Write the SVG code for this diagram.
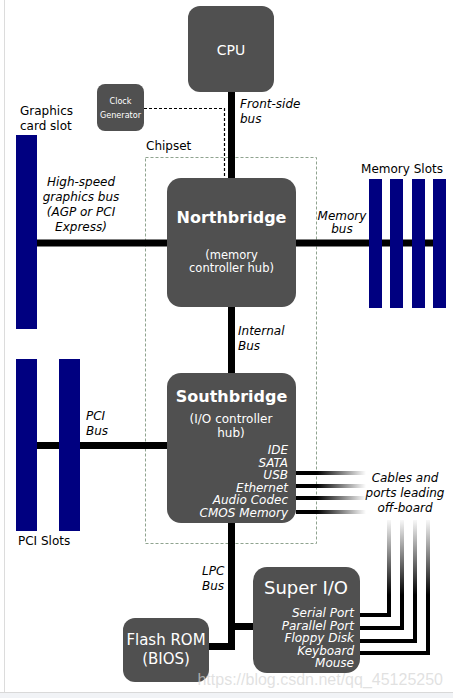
<svg xmlns="http://www.w3.org/2000/svg" width="453" height="698" viewBox="0 0 453 698">
<defs>
<style>
.node{fill:#505050}
.slot{fill:#000080}
.bus{stroke:#000;stroke-width:7;fill:none}
.t{font-family:"DejaVu Sans","Liberation Sans",sans-serif;fill:#fff}
.lbl{font-family:"DejaVu Sans","Liberation Sans",sans-serif;font-size:12px;fill:#000}
.it{font-family:"DejaVu Sans","Liberation Sans",sans-serif;font-size:12px;font-style:italic;fill:#000}
.wit{font-family:"DejaVu Sans","Liberation Sans",sans-serif;font-size:12px;font-style:italic;fill:#fff;text-anchor:end}
.hcable{stroke:url(#gh);stroke-width:4;fill:none}
.vcable{stroke:url(#gv);stroke-width:4;fill:none}
</style>
<linearGradient id="gh" gradientUnits="userSpaceOnUse" x1="296" y1="0" x2="366" y2="0">
<stop offset="0.3" stop-color="#000"/><stop offset="1" stop-color="#fff"/>
</linearGradient>
<linearGradient id="gv" gradientUnits="userSpaceOnUse" x1="0" y1="518" x2="0" y2="595">
<stop offset="0" stop-color="#fff"/><stop offset="1" stop-color="#000"/>
</linearGradient>
</defs>
<rect width="453" height="698" fill="#fff"/>
<rect x="0" y="692" width="453" height="6" fill="#f1f3f6"/>
<line x1="0" y1="692.5" x2="453" y2="692.5" stroke="#d9d9d9"/>
<line x1="4.5" y1="0" x2="4.5" y2="692" stroke="#dcdcdc"/>

<g id="chipset">
<rect x="145.5" y="157.5" width="171" height="386" fill="none" stroke="#8fa38f" stroke-dasharray="3,2"/>
<text class="lbl" x="146" y="150">Chipset</text>
</g>

<g id="connectors">
<line class="bus" x1="231.5" y1="92" x2="231.5" y2="178"/>
<polyline points="144,108.5 224.5,108.5 224.5,178" fill="none" stroke="#000" stroke-width="1.2" stroke-dasharray="3,2"/>
<line class="bus" x1="37" y1="243" x2="167" y2="243"/>
<line class="bus" x1="296" y1="243" x2="446" y2="243"/>
<line class="bus" x1="231.5" y1="307" x2="231.5" y2="373"/>
<line class="bus" x1="37" y1="445.5" x2="167" y2="445.5"/>
<polyline class="bus" points="231.5,523 231.5,646.5 209,646.5"/>
<line class="bus" x1="231.5" y1="626.5" x2="253" y2="626.5"/>
<line class="hcable" x1="296" y1="473" x2="366" y2="473"/>
<line class="hcable" x1="296" y1="486" x2="366" y2="486"/>
<line class="hcable" x1="296" y1="498" x2="366" y2="498"/>
<line class="hcable" x1="296" y1="512" x2="366" y2="512"/>
<polyline class="vcable" points="358,615 389,615 389,520"/>
<polyline class="vcable" points="358,628 402,628 402,520"/>
<polyline class="vcable" points="358,641 415,641 415,520"/>
<polyline class="vcable" points="358,653 428,653 428,520"/>
<g id="bus-labels">
<text class="it" x="240" y="108">Front-side</text>
<text class="it" x="240" y="123">bus</text>
<text class="it" text-anchor="middle"><tspan x="81" y="186">High-speed</tspan><tspan x="81" y="201">graphics bus</tspan><tspan x="81" y="216">(AGP or PCI</tspan><tspan x="81" y="231">Express)</tspan></text>
<text class="it" text-anchor="middle"><tspan x="342" y="220">Memory</tspan><tspan x="342" y="233">bus</tspan></text>
<text class="it" x="238" y="335">Internal</text>
<text class="it" x="238" y="350">Bus</text>
<text class="it" x="86" y="420">PCI</text>
<text class="it" x="86" y="435">Bus</text>
<text class="it" x="202" y="575">LPC</text>
<text class="it" x="202" y="590">Bus</text>
<text class="it" text-anchor="middle"><tspan x="405" y="482">Cables and</tspan><tspan x="405" y="497">ports leading</tspan><tspan x="405" y="512">off-board</tspan></text>
</g>
</g>

<g id="cpu">
<rect class="node" x="188" y="6" width="86" height="86" rx="12"/>
<text class="t" x="231" y="55" font-size="14" text-anchor="middle">CPU</text>
</g>

<g id="clock">
<rect class="node" x="97" y="84" width="47" height="47" rx="8"/>
<text class="t" font-size="9" font-stretch="condensed" text-anchor="middle" style="font-family:'DejaVu Sans Condensed','DejaVu Sans',sans-serif"><tspan x="120.5" y="104">Clock</tspan><tspan x="120.5" y="118">Generator</tspan></text>
</g>

<g id="graphics-slot">
<rect class="slot" x="16" y="135" width="21" height="194"/>
<text class="lbl"><tspan x="20" y="115">Graphics</tspan><tspan x="20" y="130">card slot</tspan></text>
</g>

<g id="memory-slots">
<rect class="slot" x="369" y="179" width="13" height="129"/>
<rect class="slot" x="390" y="179" width="13" height="129"/>
<rect class="slot" x="412" y="179" width="13" height="129"/>
<rect class="slot" x="433" y="179" width="13" height="129"/>
<text class="lbl" x="402" y="173" text-anchor="middle">Memory Slots</text>
</g>

<g id="northbridge">
<rect class="node" x="167" y="178" width="129" height="129" rx="14"/>
<text class="t" x="231.5" y="223" font-size="16" font-weight="bold" text-anchor="middle">Northbridge</text>
<text class="t" font-size="11.5" text-anchor="middle"><tspan x="231.5" y="259">(memory</tspan><tspan x="231.5" y="272">controller hub)</tspan></text>
</g>

<g id="pci-slots">
<rect class="slot" x="16" y="359" width="21" height="172"/>
<rect class="slot" x="59" y="359" width="21" height="172"/>
<text class="lbl" x="18" y="545">PCI Slots</text>
</g>

<g id="southbridge">
<rect class="node" x="167" y="373" width="129" height="150" rx="14"/>
<text class="t" x="231.5" y="402" font-size="16" font-weight="bold" text-anchor="middle">Southbridge</text>
<text class="t" font-size="12" text-anchor="middle"><tspan x="231" y="423">(I/O controller</tspan><tspan x="231" y="437">hub)</tspan></text>
<text class="wit"><tspan x="288" y="454">IDE</tspan><tspan x="288" y="466.5">SATA</tspan><tspan x="288" y="479">USB</tspan><tspan x="288" y="491.5">Ethernet</tspan><tspan x="288" y="504">Audio Codec</tspan><tspan x="288" y="516.5">CMOS Memory</tspan></text>
</g>

<g id="superio">
<rect class="node" x="253" y="567" width="107" height="106" rx="14"/>
<text class="t" x="306" y="594" font-size="18" text-anchor="middle">Super I/O</text>
<text class="wit"><tspan x="354" y="617">Serial Port</tspan><tspan x="354" y="629.5">Parallel Port</tspan><tspan x="354" y="642">Floppy Disk</tspan><tspan x="354" y="654.5">Keyboard</tspan><tspan x="354" y="667">Mouse</tspan></text>
</g>

<g id="flashrom">
<rect class="node" x="123" y="618" width="86" height="64" rx="12"/>
<text class="t" font-size="15" text-anchor="middle"><tspan x="166" y="645">Flash ROM</tspan><tspan x="166" y="664">(BIOS)</tspan></text>
</g>

<text x="443" y="685" font-family="'Liberation Sans',Arial,sans-serif" font-size="16" fill="#d4d4d4" fill-opacity="0.7" text-anchor="end">https://blog.csdn.net/qq_45125250</text>
</svg>
